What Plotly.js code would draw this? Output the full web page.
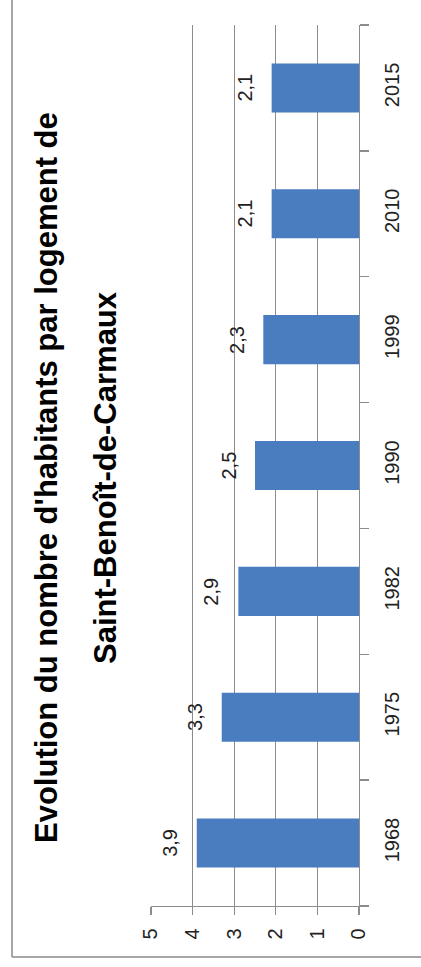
<!DOCTYPE html>
<html>
<head>
<meta charset="utf-8">
<script src="https://cdn.plot.ly/plotly-3.0.1.min.js"></script>
<style>html,body{margin:0;padding:0;background:#fff;}#chart{width:421px;height:967px;}</style>
</head>
<body>
<div id="chart"></div>
<script>
// Data
const years = ['1968', '1975', '1982', '1990', '1999', '2010', '2015'];
const values = [3.9, 3.3, 2.9, 2.5, 2.3, 2.1, 2.1];
const valueLabels = ['3,9', '3,3', '2,9', '2,5', '2,3', '2,1', '2,1'];
const valueTicks = [0, 1, 2, 3, 4, 5];
const titleLine1 = "Evolution du nombre d'habitants par logement de";
const titleLine2 = "Saint-Benoît-de-Carmaux";

// Layout geometry (pixels)
const W = 421, H = 967;
const M = {l: 151, r: 62, t: 25, b: 61};
const PW = W - M.l - M.r, PH = H - M.t - M.b;
const px2x = p => (p - M.l) / PW;
const px2y = p => (H - M.b - p) / PH;

const FONT = 'Liberation Sans, Arial, sans-serif';
const GRID = '#8c8c8c';

const trace = {
  type: 'bar',
  orientation: 'h',
  x: values,
  y: years,
  marker: {color: '#4a7cc0'},
  hoverinfo: 'none'
};

// value labels: category axis annotations use the category's serial number
const dataAnn = values.map((v, i) => ({
  x: v, y: years.indexOf(years[i]), xref: 'x', yref: 'y',
  text: valueLabels[i], showarrow: false, textangle: -90,
  xanchor: 'center', yanchor: 'middle', xshift: -27,
  font: {family: FONT, size: 20, color: '#222'}
}));

const titleAnn = [
  {text: '<b>' + titleLine1 + '</b>', x: px2x(46), y: px2y(478)},
  {text: '<b>' + titleLine2 + '</b>', x: px2x(105), y: px2y(478)}
].map(a => Object.assign(a, {
  xref: 'paper', yref: 'paper', showarrow: false, textangle: -90,
  xanchor: 'center', yanchor: 'middle',
  font: {family: FONT, size: 31, color: '#000'}
}));

const layout = {
  width: W, height: H,
  margin: Object.assign({}, M),
  paper_bgcolor: '#fff', plot_bgcolor: '#fff',
  showlegend: false,
  bargap: 0.61,
  font: {family: FONT, color: '#222'},
  xaxis: {
    range: [5, 0], autorange: false,
    tickvals: valueTicks,
    ticktext: valueTicks.map(String),
    tickangle: -90,
    showgrid: true, gridcolor: GRID, gridwidth: 1.3,
    zeroline: false,
    showline: true, linecolor: GRID, linewidth: 1.3,
    ticks: 'outside', ticklen: 8, tickcolor: GRID, tickwidth: 1.3,
    ticklabelstandoff: 5,
    tickfont: {family: FONT, size: 20, color: '#222'},
    fixedrange: true
  },
  yaxis: {
    type: 'category',
    categoryorder: 'array', categoryarray: years,
    range: [-0.5, years.length - 0.5], autorange: false,
    side: 'right',
    tickangle: -90,
    showgrid: false, zeroline: false,
    showline: true, linecolor: GRID, linewidth: 1.3,
    ticks: 'outside', tickson: 'boundaries', ticklen: 9, tickcolor: GRID, tickwidth: 1.3,
    ticklabelstandoff: 15,
    tickfont: {family: FONT, size: 20, color: '#222'},
    fixedrange: true
  },
  shapes: [
    {type: 'line', xref: 'paper', yref: 'paper', x0: px2x(12), x1: px2x(12), y0: px2y(0), y1: px2y(957), line: {color: '#8a8a8a', width: 1.5}},
    {type: 'line', xref: 'paper', yref: 'paper', x0: px2x(12), x1: px2x(421), y0: px2y(957), y1: px2y(957), line: {color: '#8a8a8a', width: 1.5}}
  ],
  annotations: titleAnn.concat(dataAnn)
};

Plotly.newPlot('chart', [trace], layout, {displayModeBar: false, staticPlot: true});
</script>
</body>
</html>
